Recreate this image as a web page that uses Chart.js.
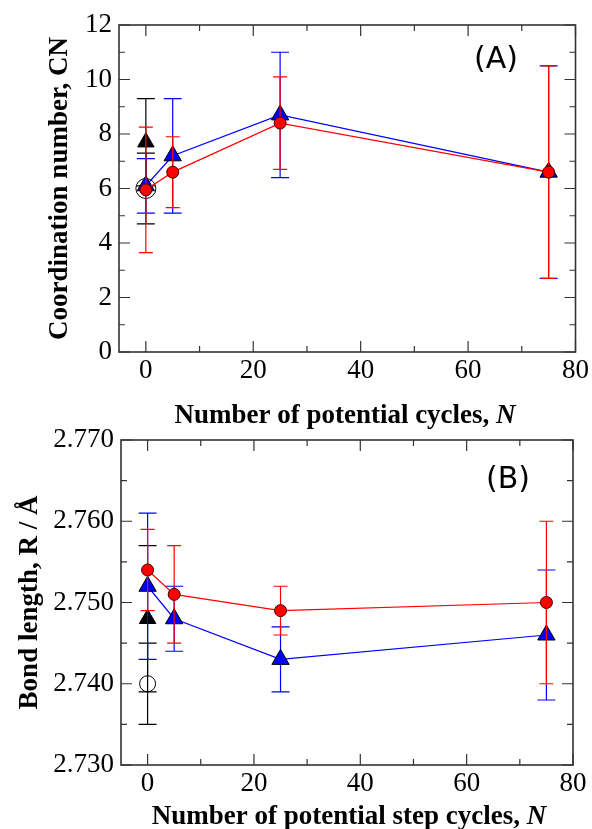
<!DOCTYPE html>
<html>
<head>
<meta charset="utf-8">
<script src="https://cdn.jsdelivr.net/npm/chart.js@4.4.1/dist/chart.umd.min.js"></script>
<style>
  body { margin: 0; background: #fff; }
  #wrap { position: relative; width: 592px; height: 829px; }
  canvas { position: absolute; left: 0; top: 0; }
</style>
</head>
<body>
<div id="wrap">
  <canvas id="chartA" width="592" height="829"></canvas>
  <canvas id="chartB" width="592" height="829"></canvas>
</div>
<script>
  // cycle numbers
  const cycles = [0, 5, 25, 75];
  const refCycle = [0];
  const xTicks = [0, 20, 40, 60, 80];
  const xMinor = [10, 30, 50, 70];

  // (A) coordination number
  const cnRed = [5.95, 6.6, 8.4, 6.6];
  const cnRedErr = [2.3, 1.3, 1.7, 3.9];
  const cnBlue = [6.1, 7.2, 8.7, 6.6];
  const cnBlueErr = [1.0, 2.1, 2.3, 3.9];
  const cnRefTri = [7.7];
  const cnRefTriErr = [1.6];
  const cnRefCircle = [6.0];
  const cnRefCircleErr = [1.3];
  const cnTicks = [0, 2, 4, 6, 8, 10, 12];
  const cnMinor = [1, 3, 5, 7, 9, 11];

  // (B) bond length
  const rRed = [2.754, 2.751, 2.749, 2.750];
  const rRedErr = [0.005, 0.006, 0.003, 0.010];
  const rBlue = [2.752, 2.748, 2.743, 2.746];
  const rBlueErr = [0.009, 0.004, 0.004, 0.008];
  const rRefTri = [2.748];
  const rRefTriErr = [0.009];
  const rRefCircle = [2.740];
  const rRefCircleErr = [0.005];
  const rTicks = [2.730, 2.740, 2.750, 2.760, 2.770];
  const rMinor = [2.735, 2.745, 2.755, 2.765];

  const W = 592, H = 829;
  const tickFont = { family: 'Liberation Serif', size: 27 };
  const titleFont = 'bold 27px "Liberation Serif"';
  const italicFont = 'italic bold 27px "Liberation Serif"';

  function pts(xs, ys) {
    return xs.map((x, i) => ({ x: x, y: ys[i] }));
  }

  // error bars, drawn just under each dataset
  const errorBars = {
    id: 'errorBars',
    beforeDatasetDraw(chart, args) {
      const ds = chart.data.datasets[args.index];
      if (!ds.err) return;
      const ctx = chart.ctx;
      const ys = chart.scales.y;
      ctx.save();
      ctx.strokeStyle = ds.errColor;
      ctx.lineWidth = 1.2;
      args.meta.data.forEach((el, i) => {
        const v = ds.data[i].y, e = ds.err[i];
        const top = ys.getPixelForValue(v + e);
        const bot = ys.getPixelForValue(v - e);
        ctx.beginPath();
        ctx.moveTo(el.x, top); ctx.lineTo(el.x, bot);
        ctx.moveTo(el.x - ds.capW, top); ctx.lineTo(el.x + ds.capW, top);
        ctx.moveTo(el.x - ds.capW, bot); ctx.lineTo(el.x + ds.capW, bot);
        ctx.stroke();
      });
      ctx.restore();
    }
  };

  // frame, inward ticks, axis titles and panel letter
  const decor = {
    id: 'decor',
    beforeDatasetsDraw(chart) {
      const o = chart.options.plugins.decor;
      const { left, right, top, bottom } = chart.chartArea;
      const ctx = chart.ctx;
      const xs = chart.scales.x, ys = chart.scales.y;
      ctx.save();
      ctx.strokeStyle = '#333';
      ctx.lineWidth = 1.2;
      ctx.beginPath();
      const xt = (v, len) => {
        const p = xs.getPixelForValue(v);
        ctx.moveTo(p, bottom); ctx.lineTo(p, bottom - len);
        ctx.moveTo(p, top); ctx.lineTo(p, top + len);
      };
      const yt = (v, len) => {
        const p = ys.getPixelForValue(v);
        ctx.moveTo(left, p); ctx.lineTo(left + len, p);
        ctx.moveTo(right, p); ctx.lineTo(right - len, p);
      };
      xTicks.forEach(v => xt(v, 11));
      xMinor.forEach(v => xt(v, 6));
      o.yTicks.forEach(v => yt(v, 11));
      o.yMinor.forEach(v => yt(v, 6));
      ctx.stroke();
      ctx.lineWidth = 1.6;
      ctx.strokeRect(left, top, right - left, bottom - top);
      ctx.restore();
    },
    afterDraw(chart) {
      const o = chart.options.plugins.decor;
      const { top, bottom } = chart.chartArea;
      const ctx = chart.ctx;
      ctx.save();
      ctx.fillStyle = '#000';
      // x title with italic N
      ctx.font = titleFont;
      const w1 = ctx.measureText(o.xTitle).width;
      ctx.font = italicFont;
      const w2 = ctx.measureText('N').width;
      const x0 = o.xTitleX - (w1 + w2) / 2;
      ctx.textBaseline = 'alphabetic';
      ctx.textAlign = 'left';
      ctx.font = titleFont;
      ctx.fillText(o.xTitle, x0, o.xTitleY);
      ctx.font = italicFont;
      ctx.fillText('N', x0 + w1, o.xTitleY);
      // y title
      ctx.translate(o.yTitleX, (top + bottom) / 2);
      ctx.rotate(-Math.PI / 2);
      ctx.font = titleFont;
      ctx.textAlign = 'center';
      ctx.textBaseline = 'middle';
      ctx.fillText(o.yTitle, 0, 0);
      ctx.restore();
      // panel letter
      ctx.save();
      ctx.font = '30px "DejaVu Sans"';
      ctx.fillStyle = '#000';
      ctx.textAlign = 'center';
      ctx.textBaseline = 'middle';
      ctx.fillText(o.panel, o.panelX, o.panelY);
      ctx.restore();
    }
  };

  function makeChart(id, cfg) {
    const datasets = [
      { label: 'red', data: pts(cycles, cfg.red), err: cfg.redErr, errColor: '#ff0000', capW: 7,
        showLine: true, borderColor: '#ff0000', borderWidth: 1.2,
        pointStyle: 'circle', pointRadius: 6, pointBackgroundColor: '#ff0000',
        pointBorderColor: '#3a0000', pointBorderWidth: 1 },
      { label: 'blue', data: pts(cycles, cfg.blue), err: cfg.blueErr, errColor: '#0000ff', capW: 9,
        showLine: true, borderColor: '#0000ff', borderWidth: 1.2,
        pointStyle: 'triangle', pointRadius: 10, pointBackgroundColor: '#0000ff',
        pointBorderColor: '#000', pointBorderWidth: 1 },
      { label: 'refTri', data: pts(refCycle, cfg.tri), err: cfg.triErr, errColor: '#000', capW: 9,
        showLine: false, pointStyle: 'triangle', pointRadius: 9.5, pointBackgroundColor: '#000',
        pointBorderColor: '#000', pointBorderWidth: 1 },
      { label: 'refCircle', data: pts(refCycle, cfg.circ), err: cfg.circErr, errColor: '#000', capW: 9,
        showLine: false, pointStyle: 'circle', pointRadius: cfg.circR, pointBackgroundColor: '#fff',
        pointBorderColor: '#000', pointBorderWidth: 1 }
    ];
    return new Chart(document.getElementById(id), {
      type: 'scatter',
      data: { datasets: datasets },
      plugins: [errorBars, decor],
      options: {
        responsive: false,
        animation: false,
        events: [],
        layout: { padding: { left: 0, top: cfg.top, right: W - cfg.right, bottom: H - cfg.bottom - 40 } },
        plugins: {
          legend: { display: false },
          tooltip: { enabled: false },
          decor: cfg.decor
        },
        scales: {
          x: {
            type: 'linear', min: -5, max: 80,
            afterBuildTicks: s => { s.ticks = xTicks.map(v => ({ value: v })); },
            afterFit: s => { s.height = 40; },
            grid: { display: false, drawTicks: false },
            border: { display: false },
            ticks: { font: tickFont, color: '#000', padding: 3, maxRotation: 0, autoSkip: false }
          },
          y: {
            type: 'linear', min: cfg.yMin, max: cfg.yMax,
            afterBuildTicks: s => { s.ticks = cfg.decor.yTicks.map(v => ({ value: v })); },
            afterFit: s => { s.width = cfg.left; },
            grid: { display: false, drawTicks: false },
            border: { display: false },
            ticks: { font: tickFont, color: '#000', padding: 7, autoSkip: false, callback: cfg.fmt }
          }
        }
      }
    });
  }

  makeChart('chartA', {
    red: cnRed, redErr: cnRedErr, blue: cnBlue, blueErr: cnBlueErr,
    tri: cnRefTri, triErr: cnRefTriErr, circ: cnRefCircle, circErr: cnRefCircleErr, circR: 10,
    left: 119, right: 578, top: 25, bottom: 352, yMin: 0, yMax: 12,
    fmt: v => String(v),
    decor: { yTicks: cnTicks, yMinor: cnMinor, xTitle: 'Number of potential cycles, ', xTitleX: 345, xTitleY: 423,
      yTitle: 'Coordination number, CN', yTitleX: 60, panel: '(A)', panelX: 496, panelY: 60 }
  });

  makeChart('chartB', {
    red: rRed, redErr: rRedErr, blue: rBlue, blueErr: rBlueErr,
    tri: rRefTri, triErr: rRefTriErr, circ: rRefCircle, circErr: rRefCircleErr, circR: 8,
    left: 121, right: 573, top: 440, bottom: 765, yMin: 2.730, yMax: 2.770,
    fmt: v => Number(v).toFixed(3),
    decor: { yTicks: rTicks, yMinor: rMinor, xTitle: 'Number of potential step cycles, ', xTitleX: 349, xTitleY: 824,
      yTitle: 'Bond length, R / Å', yTitleX: 30, panel: '(B)', panelX: 508, panelY: 480 }
  });
</script>
</body>
</html>
